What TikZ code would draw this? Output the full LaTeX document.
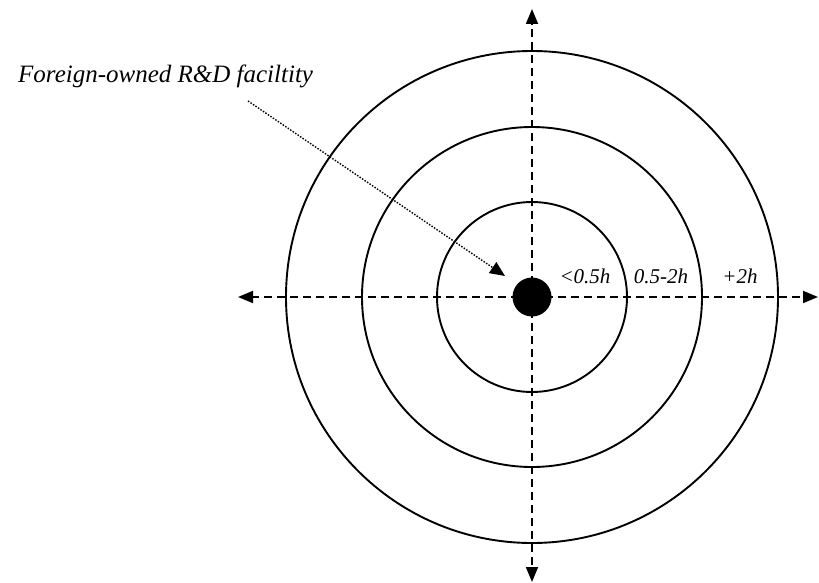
\documentclass[tikz,border=0pt]{standalone}
\usepackage{fontspec}
\setmainfont{Liberation Serif}
\usetikzlibrary{arrows.meta}
\begin{document}
\begin{tikzpicture}[x=1pt,y=-1pt,
  ring/.style={draw, circle, line width=1.9pt, inner sep=0pt, minimum size=#1},
  axis/.style={line width=1.8pt, dash pattern=on 8pt off 5pt, -{Triangle[length=15pt,width=12pt]}},
  pointer/.style={line width=1.4pt, dash pattern=on 1.5pt off 1.5pt, -{Triangle[length=15pt,width=13pt]}},
  lbl/.style={font=\fontsize{21}{24}\selectfont\itshape, anchor=base, inner sep=0pt},
  title/.style={font=\fontsize{25}{28}\selectfont\itshape, anchor=base west, inner sep=0pt}]
\useasboundingbox (0,0) rectangle (819,583);
\node[ring=190pt] (c1) at (532,297) {};
\node[ring=340pt] (c2) at (532,297) {};
\node[ring=492pt] (c3) at (532,297) {};
\coordinate (L) at (238,297);
\coordinate (R) at (818,297);
\coordinate (U) at (532,9);
\coordinate (D) at (532,582);
\draw[axis] (c1.center) -- (L);
\draw[axis] (c1.center) -- (R);
\draw[axis] (c1.center) -- (U);
\draw[axis] (c1.center) -- (D);
\node[circle, fill=black, inner sep=0pt, minimum size=39pt] (dot) at (532,297) {};
\node[lbl] (a) at (585,283) {<0.5h};
\node[lbl] (b) at (661,283) {0.5-2h};
\node[lbl] (e) at (740,283) {+2h};
\node[title] (t) at (18,83) {Foreign-owned R\&D faciltity};
\coordinate (S) at (248,101);
\coordinate (P) at (505,276);
\draw[pointer] (S) -- (P);
\end{tikzpicture}
\end{document}
